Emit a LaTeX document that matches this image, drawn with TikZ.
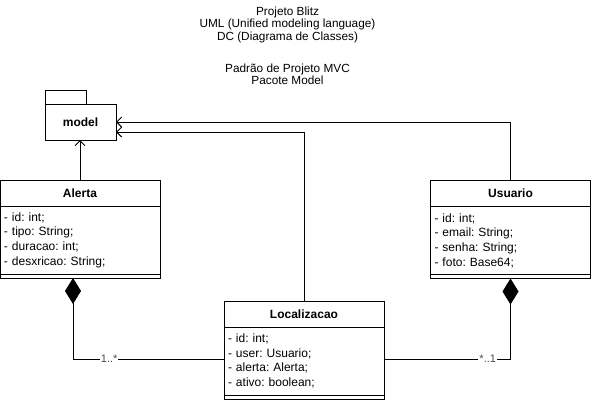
\documentclass[tikz,border=0pt]{standalone}
\usepackage{fontspec}
\setmainfont{Liberation Sans}
\usetikzlibrary{positioning,arrows.meta}
\frenchspacing

\begin{document}
\begin{tikzpicture}[x=1pt, y=-1pt, line width=1pt,
        classhead/.style={draw, outer sep=0pt, minimum width=160pt, minimum height=26pt, inner sep=0pt, font=\bfseries\fontsize{12}{14}\selectfont},
        classattr/.style={draw, outer sep=0pt, minimum width=160pt, minimum height=68pt, text width=152pt, inner xsep=4pt, inner ysep=0pt, align=left, font=\fontsize{12}{14.7}\selectfont},
        classfoot/.style={draw, outer sep=0pt, minimum width=160pt, minimum height=4pt, inner sep=0pt},
        titletext/.style={align=center, font=\fontsize{11.8}{12.2}\selectfont},
        mult/.style={fill=white, text=black!70, inner sep=1pt, font=\fontsize{11}{12}\selectfont},
        heranca/.style={-{Straight Barb[length=5pt,width=10pt]}},
        composicao/.style={{Diamond[length=26pt,width=16pt]}-}
    ]
        \useasboundingbox (0,0) rectangle (591,400);

        % Titulo
        \node[titletext] (titulo) at (287.5,24.8) {Projeto Blitz\\UML (Unified modeling language)\\DC (Diagrama de Classes)};
        \node[titletext] (padrao) at (287.5,74) {Padrão de Projeto MVC\\Pacote Model};

        % Pacote model
        \node[draw, outer sep=0pt, minimum width=71pt, minimum height=36pt, inner sep=0pt, font=\bfseries\fontsize{12}{14}\selectfont] (model) at (80.5,122) {model};
        \draw (model.north west) rectangle ++(41,-14);

        % Classes
        %% Alerta
        \node[classhead] (alerta) at (80,193) {Alerta};
        \node[classattr, below=0pt of alerta] (alertaAttr) {- id: int;\\- tipo: String;\\- duracao: int;\\- desxricao: String;};
        \node[classfoot, below=0pt of alertaAttr] (alertaFoot) {};
        %% Usuario
        \node[classhead] (usuario) at (510.5,193.5) {Usuario};
        \node[classattr, below=0pt of usuario] (usuarioAttr) {- id: int;\\- email: String;\\- senha: String;\\- foto: Base64;};
        \node[classfoot, below=0pt of usuarioAttr] (usuarioFoot) {};
        %% Localizacao
        \node[classhead] (localizacao) at (304,314) {Localizacao};
        \node[classattr, below=0pt of localizacao] (locAttr) {- id: int;\\- user: Usuario;\\- alerta: Alerta;\\- ativo: boolean;};
        \node[classfoot, below=0pt of locAttr] (locFoot) {};

        % Dependencias do pacote
        \draw[heranca] (alerta.north) -- (alerta.north |- model.south);
        \draw[heranca] (usuario.north) |- (model.east);
        \draw[heranca] (localizacao.north) |- ([yshift=-10pt]model.east);

        % Composicoes
        \draw[composicao] ([xshift=-7pt]alertaFoot.south) |- ([yshift=2pt]locAttr.west) node[mult, pos=0.62] {1..*};
        \draw[composicao] (usuarioFoot.south) |- ([yshift=2pt]locAttr.east) node[mult, pos=0.59] {*..1};

    \end{tikzpicture}
\end{document}
